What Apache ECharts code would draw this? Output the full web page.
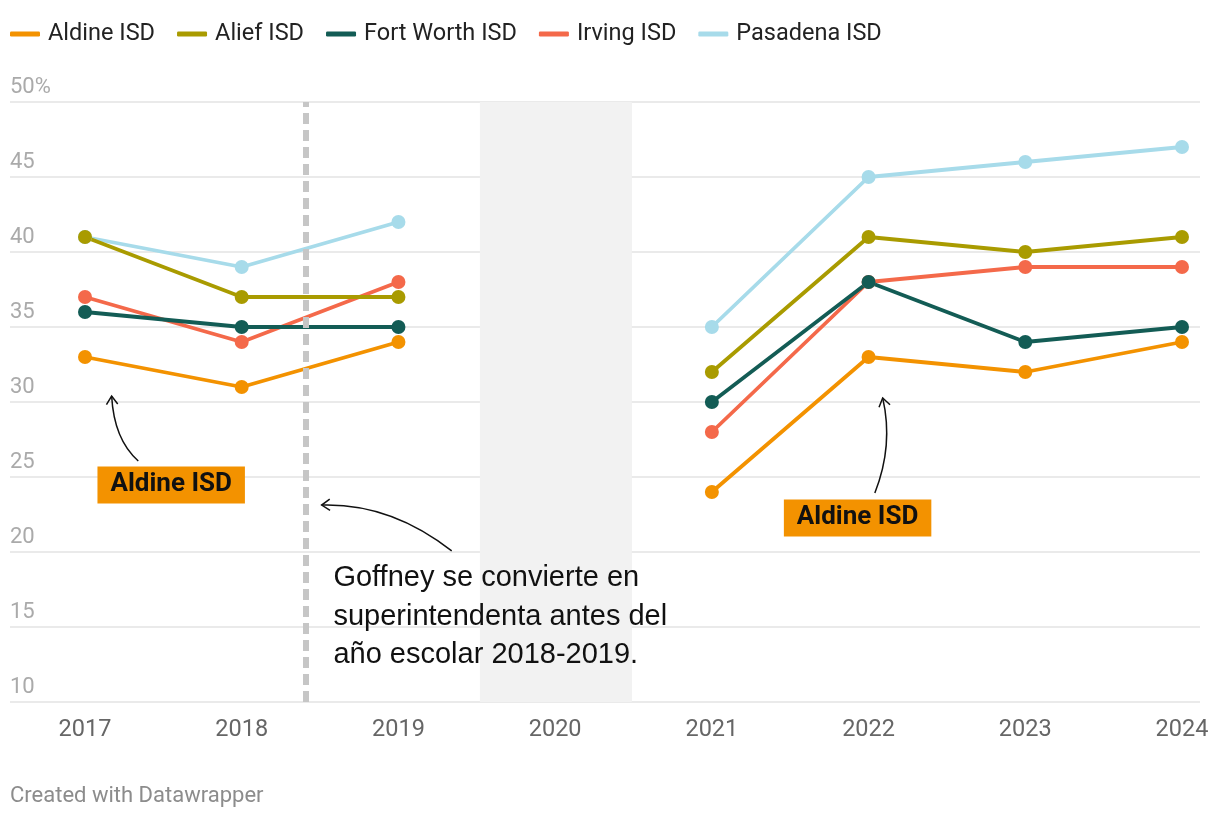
<!DOCTYPE html>
<html><head><meta charset="utf-8">
<script src="https://cdn.jsdelivr.net/npm/echarts@6/dist/echarts.min.js"></script>
<style>html,body{margin:0;padding:0;background:#fff}#c{width:1220px;height:818px}</style>
</head><body><div id="c"></div>
<script>
// ---- data ----
const years = [2017, 2018, 2019, 2020, 2021, 2022, 2023, 2024];
const seriesNames = ['Aldine ISD', 'Alief ISD', 'Fort Worth ISD', 'Irving ISD', 'Pasadena ISD'];
const aldine    = [33, 31, 34, null, 24, 33, 32, 34];
const alief     = [41, 37, 37, null, 32, 41, 40, 41];
const fortWorth = [36, 35, 35, null, 30, 38, 34, 35];
const irving    = [37, 34, 38, null, 28, 38, 39, 39];
const pasadena  = [41, 39, 42, null, 35, 45, 46, 47];
const yMin = 10, yMax = 50, yStep = 5;
const gapYear = 2020;        // shaded year (no data)
const goffneyYear = 2018.41; // dashed marker position
const noteText = 'Goffney se convierte en\nsuperintendenta antes del\naño escolar 2018-2019.';
const labelText = 'Aldine ISD';

const colors = {
  'Aldine ISD': '#f39200',
  'Alief ISD': '#a99b00',
  'Fort Worth ISD': '#135c55',
  'Irving ISD': '#f4694a',
  'Pasadena ISD': '#a7dbea'
};
const values = {
  'Aldine ISD': aldine, 'Alief ISD': alief, 'Fort Worth ISD': fortWorth,
  'Irving ISD': irving, 'Pasadena ISD': pasadena
};
const drawOrder = ['Pasadena ISD', 'Irving ISD', 'Aldine ISD', 'Alief ISD', 'Fort Worth ISD'];

const FONT = 'Roboto';
const chart = echarts.init(document.getElementById('c'));

const lineSeries = drawOrder.map(name => ({
  name, type: 'line', xAxisIndex: 1, yAxisIndex: 1,
  data: years.map((y, i) => [y, values[name][i] == null ? '-' : values[name][i]]),
  connectNulls: false,
  symbol: 'circle', symbolSize: 14,
  lineStyle: { width: 3.8, color: colors[name] },
  itemStyle: { color: colors[name] },
  emphasis: { disabled: true },
  animation: false
}));

const option = {
  animation: false,
  textStyle: { fontFamily: FONT },
  legend: {
    data: seriesNames, left: 5, top: 17, icon: 'roundRect',
    itemWidth: 30, itemHeight: 5, itemGap: 22,
    textStyle: { fontSize: 23.5, color: '#222', fontFamily: FONT, padding: [0, 0, 0, 3] },
    selectedMode: false
  },
  grid: [
    { left: 10, right: 20, top: 102, bottom: 116 },
    { left: 85, right: 38, top: 102, bottom: 116 }
  ],
  xAxis: [
    { gridIndex: 0, type: 'value', min: 0, max: 1, show: false },
    { gridIndex: 1, type: 'value', min: years[0], max: years[years.length - 1], interval: 1,
      axisLine: { show: false }, axisTick: { show: false }, splitLine: { show: false },
      axisLabel: { fontSize: 23.5, color: '#666', margin: 16, fontFamily: FONT, formatter: v => String(v) } }
  ],
  yAxis: [
    { gridIndex: 0, type: 'value', min: yMin, max: yMax, interval: yStep,
      axisLine: { show: false }, axisTick: { show: false },
      splitLine: { lineStyle: { color: '#e3e3e3', width: 1.5 } },
      axisLabel: { inside: true, align: 'left', verticalAlign: 'bottom', margin: 0,
        padding: [0, 0, 4, 0], fontSize: 22, color: '#aaa', fontFamily: FONT,
        formatter: v => v === yMax ? v + '%' : String(v) } },
    { gridIndex: 1, type: 'value', min: yMin, max: yMax, interval: yStep, show: false }
  ],
  series: [
    { type: 'line', xAxisIndex: 1, yAxisIndex: 1, data: [], z: -1, silent: true,
      markArea: { silent: true, itemStyle: { color: '#f2f2f2' },
        data: [[{ xAxis: gapYear - 0.48 }, { xAxis: gapYear + 0.49 }]] } },
    { type: 'line', xAxisIndex: 1, yAxisIndex: 1, data: [], silent: true,
      markLine: { silent: true, symbol: 'none', label: { show: false },
        lineStyle: { color: '#c6c6c6', width: 6, type: [11, 6] },
        data: [{ xAxis: goffneyYear }] } },
    ...lineSeries
  ]
};
chart.setOption(option);

// ---- annotations anchored in data coordinates ----
const P = (x, y) => chart.convertToPixel({ gridIndex: 1 }, [x, y]);
function arrow(from, ctrl, to) {
  const a = P(...from), c = P(...ctrl), b = P(...to);
  const ang = Math.atan2(b[1] - c[1], b[0] - c[0]);
  const L = 10, sp = 0.6;
  const h1 = [b[0] - L * Math.cos(ang - sp), b[1] - L * Math.sin(ang - sp)];
  const h2 = [b[0] - L * Math.cos(ang + sp), b[1] - L * Math.sin(ang + sp)];
  return [
    { type: 'bezierCurve', shape: { x1: a[0], y1: a[1], cpx1: c[0], cpy1: c[1], x2: b[0], y2: b[1] },
      style: { stroke: '#111', lineWidth: 1.5, fill: 'none' }, z: 10 },
    { type: 'polyline', shape: { points: [h1, b, h2] },
      style: { stroke: '#111', lineWidth: 1.5, fill: 'none' }, z: 10 }
  ];
}
function tag(pos) {
  const p = P(...pos);
  return { type: 'text', x: p[0], y: p[1], z: 10,
    style: { text: labelText, fill: '#111', fontSize: 26, fontWeight: 'bold', fontFamily: FONT,
      backgroundColor: '#f39200', padding: [6, 13, 5, 13], align: 'center', verticalAlign: 'middle' } };
}
const notePos = P(2018.585, 19.55);
chart.setOption({
  graphic: [
    tag([2017.55, 24.47]),
    tag([2021.93, 22.27]),
    ...arrow([2017.34, 26.07], [2017.185, 27.5], [2017.17, 30.4]),
    ...arrow([2022.04, 23.93], [2022.16, 27.1], [2022.09, 30.27]),
    ...arrow([2019.34, 20.07], [2018.95, 23.27], [2018.51, 23.13]),
    { type: 'text', x: notePos[0], y: notePos[1], z: 10,
      style: { text: noteText, fill: '#111', fontSize: 29, fontFamily: 'Liberation Sans',
        lineHeight: 38.5, align: 'left', verticalAlign: 'top' } },
    { type: 'text', left: 10, top: 785,
      style: { text: 'Created with Datawrapper', fill: '#8c8c8c', fontSize: 22, fontFamily: FONT } }
  ]
});
</script></body></html>
